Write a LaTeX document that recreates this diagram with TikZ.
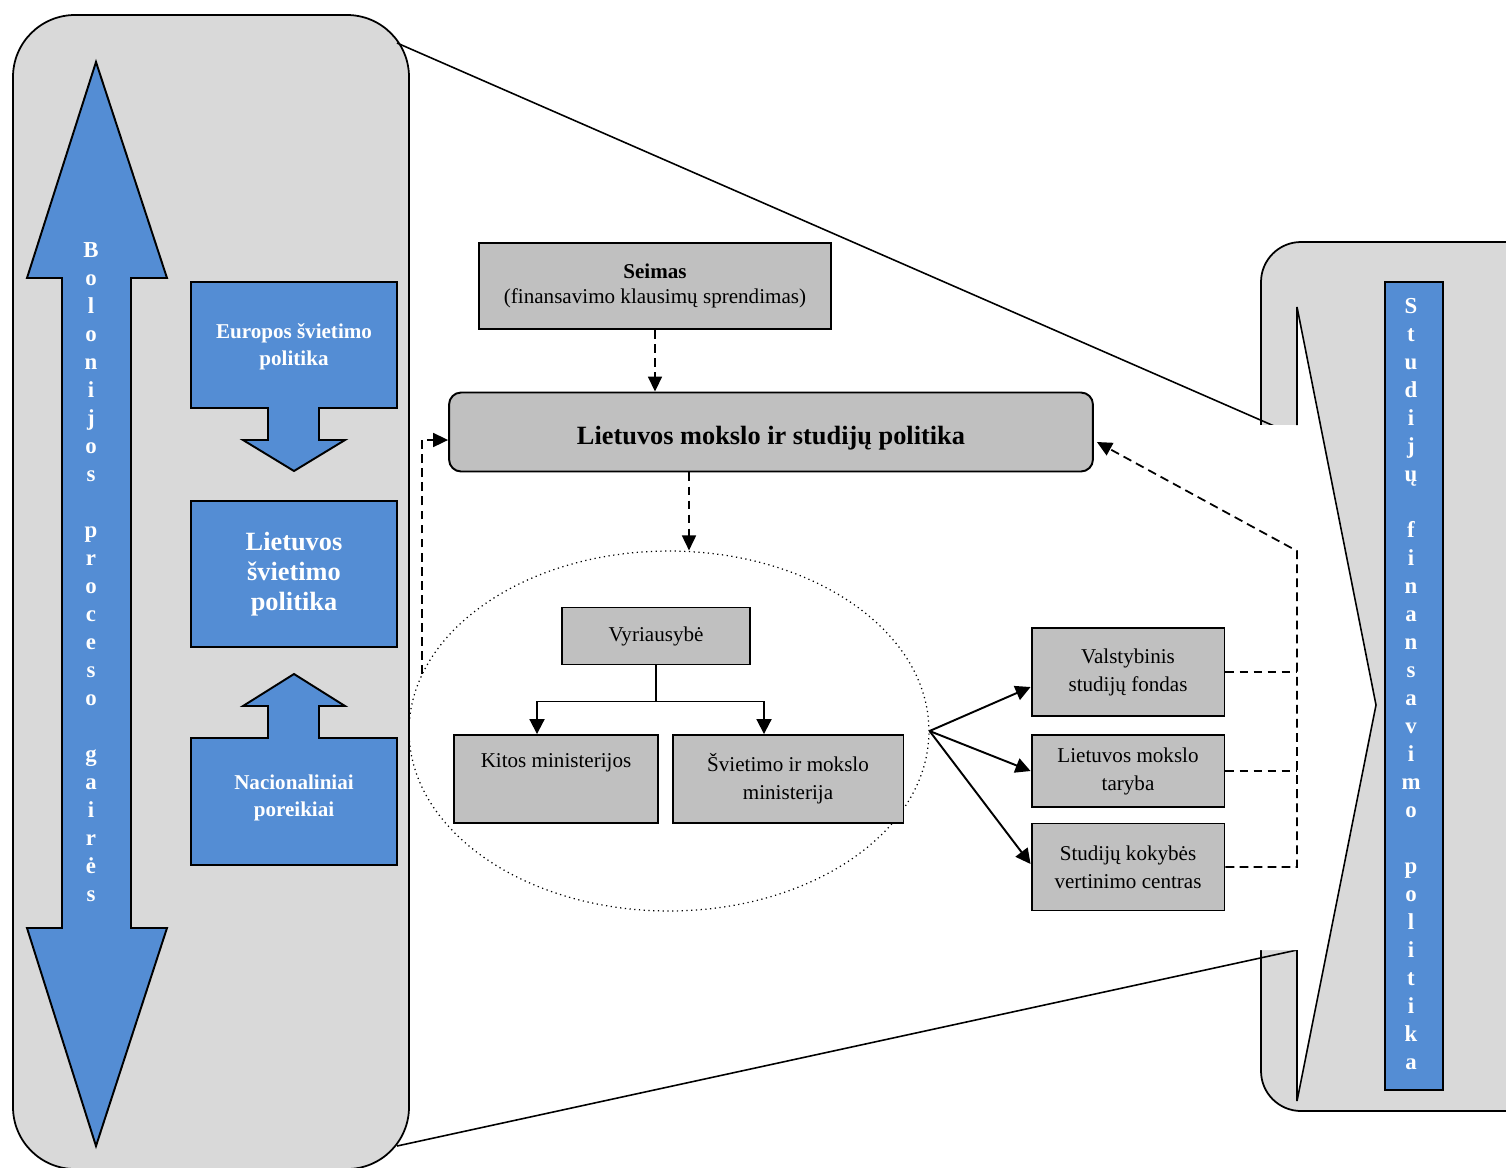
\documentclass[tikz,border=0pt]{standalone}
\usepackage{fontspec}
\setmainfont{Liberation Serif}
\usetikzlibrary{positioning,calc,arrows.meta,shapes.geometric}

\definecolor{panelgray}{HTML}{D9D9D9}
\definecolor{boxgray}{HTML}{C0C0C0}
\definecolor{polblue}{HTML}{548DD4}

\tikzset{
  panel/.style={draw, line width=1pt, fill=panelgray},
  bluebox/.style={draw, line width=1.1pt, fill=polblue},
  bluetext/.style={text=white, align=center, font=\bfseries\fontsize{12}{15.5}\selectfont},
  letter/.style={text=white, anchor=base, inner sep=0pt, font=\bfseries\fontsize{13}{15}\selectfont},
  graybox/.style={draw, line width=1.1pt, fill=boxgray, align=center, inner sep=2pt, font=\fontsize{12}{16}\selectfont},
  dashline/.style={line width=1pt, dash pattern=on 5pt off 3pt},
  dasharrow/.style={dashline, -{Triangle[length=0.3cm, width=0.28cm]}},
  treearrow/.style={line width=1.1pt, -{Triangle[length=0.3cm, width=0.3cm]}},
  zoomline/.style={line width=0.9pt},
}

\begin{document}
\begin{tikzpicture}[x=0.02cm, y=-0.02cm]
\useasboundingbox (0,0) rectangle (1506,1167);

% left panel
\draw[panel, rounded corners=1.24cm] (13,15) rectangle (409,1169);
\draw[bluebox] (96,62) -- (167,278) -- (131,278) -- (131,928) -- (167,928) -- (96,1146)
  -- (27,928) -- (62,928) -- (62,278) -- (27,278) -- cycle;
\foreach \ch/\k in {B/0,o/1,l/2,o/3,n/4,i/5,j/6,o/7,s/8,p/10,r/11,o/12,c/13,e/14,s/15,o/16,g/18,a/19,i/20,r/21,ė/22,s/23}
  \node[letter] at (91,257+28*\k) {\ch};

\draw[bluebox] (191,282) -- (397,282) -- (397,408) -- (319,408) -- (319,440) -- (345,440)
  -- (294,471) -- (243,440) -- (268,440) -- (268,408) -- (191,408) -- cycle;
\node[bluetext] (eur) at (294,347) {Europos švietimo\\politika};
\node[bluebox, bluetext, minimum width=4.12cm, minimum height=2.92cm,
  font=\bfseries\fontsize{15}{17}\selectfont] (ltsp) at (294,574) {Lietuvos\\švietimo\\politika};
\draw[bluebox] (191,865) -- (397,865) -- (397,738) -- (319,738) -- (319,706) -- (345,706)
  -- (294,674) -- (243,706) -- (268,706) -- (268,738) -- (191,738) -- cycle;
\node[bluetext] (nac) at (294,798) {Nacionaliniai\\poreikiai};

% right panel
\draw[panel, rounded corners=0.8cm] (1261,242) rectangle (1560,1111);
\coordinate (ztop) at (397,43);
\coordinate (zbot) at (397,1146);
\draw[zoomline] (ztop) -- (1297,436);
\draw[zoomline] (zbot) -- (1297,950);
\fill[white] (1297,307) -- (1376,705) -- (1297,1101) -- (1297,950) -- (1257,950)
  -- (1257,425) -- (1297,425) -- cycle;
\draw[zoomline] (1297,425) -- (1297,307) -- (1376,705) -- (1297,1101) -- (1297,950);
\node[bluebox, minimum width=1.16cm, minimum height=16.16cm] (fin) at (1414,686) {};
\foreach \ch/\k in {S/0,t/1,u/2,d/3,i/4,j/5,ų/6,f/8,i/9,n/10,a/11,n/12,s/13,a/14,v/15,i/16,m/17,o/18,p/20,o/21,l/22,i/23,t/24,i/25,k/26,a/27}
  \node[letter] at (1411,313+28*\k) {\ch};

% middle
\node[graybox, minimum width=7.04cm, minimum height=1.72cm, font=\fontsize{12}{14}\selectfont] (seimas)
  at (655,286) {\textbf{Seimas}\\(finansavimo klausimų sprendimas)};
\node[graybox, rounded corners=0.24cm, minimum width=12.88cm, minimum height=1.58cm,
  text height=17pt, text depth=3pt, font=\bfseries\fontsize{15}{17}\selectfont] (lms)
  at (771,432) {Lietuvos mokslo ir studijų politika};
\node[draw, ellipse, dotted, line width=0.7pt, minimum width=10.4cm, minimum height=7.2cm, inner sep=0pt] (gov)
  at (669,731) {};
\node[graybox, minimum width=3.76cm, minimum height=1.14cm] (vyr) at (656,636) {Vyriausybė};
\node[graybox, minimum width=4.08cm, minimum height=1.76cm] (kitos) at (556,779) {Kitos ministerijos\\\strut};
\node[graybox, minimum width=4.62cm, minimum height=1.76cm] (smm) at (788,779) {Švietimo ir mokslo\\ministerija};
\node[graybox, minimum width=3.86cm, minimum height=1.76cm] (vsf) at (1128,672) {Valstybinis\\studijų fondas};
\node[graybox, minimum width=3.86cm, minimum height=1.44cm] (lmt) at (1128,771) {Lietuvos mokslo\\taryba};
\node[graybox, minimum width=3.86cm, minimum height=1.74cm] (skvc) at (1128,867) {Studijų kokybės\\vertinimo centras};

\draw[dasharrow] (seimas.south) -- (seimas.south |- lms.north);
\coordinate (drop) at ($(lms.south)+(-82,0)$);
\draw[dasharrow] (drop) -- (drop |- gov.north);
\draw[dasharrow] (gov.167) |- ($(lms.west)+(0,8)$);
\draw[line width=1.1pt] (vyr.south) -- ++(0,36) coordinate (split);
\draw[treearrow] (split) -| ($(kitos.north)+(-19,0)$);
\draw[treearrow] (split) -| ($(smm.north)+(-24,0)$);
\coordinate (fan) at (gov.east);
\draw[treearrow] (fan) -- ($(vsf.west)+(0,15)$);
\draw[treearrow] (fan) -- (lmt.west);
\draw[treearrow] (fan) -- ($(skvc.west)+(0,-3)$);
\coordinate (join) at (1297,551);
\draw[dashline] (vsf.east) -- (vsf.east -| join);
\draw[dashline] (lmt.east) -- (lmt.east -| join);
\draw[dasharrow] (skvc.east) -| (join) -- ($(lms.east)+(3,10)$);
\end{tikzpicture}
\end{document}
